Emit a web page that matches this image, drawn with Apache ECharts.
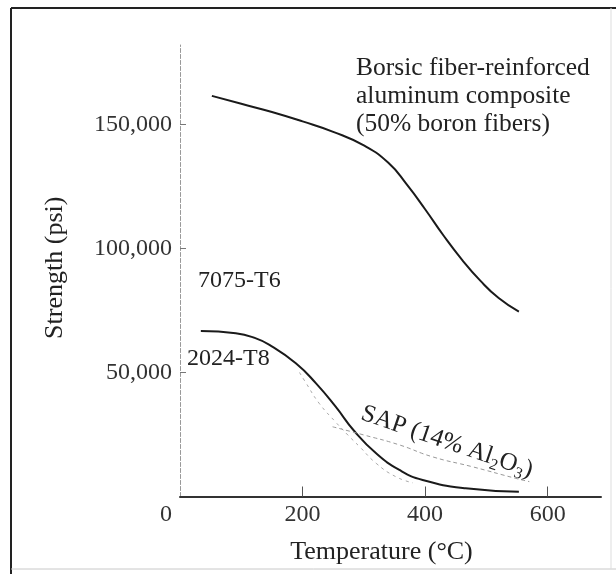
<!DOCTYPE html>
<html>
<head>
<meta charset="utf-8">
<script src="https://cdn.jsdelivr.net/npm/echarts@6/dist/echarts.min.js"></script>
<style>
html,body{margin:0;padding:0;background:#fff;}
#main{width:616px;height:574px;}
</style>
</head>
<body>
<div id="main"></div>
<script>
// ---- data ----
var xTicks = [0, 200, 400, 600];
var yTicks = [0, 50000, 100000, 150000];
var yTickLabels = ['', '50,000', '100,000', '150,000'];

var borsicT = [52, 100, 150, 200, 250, 300, 340, 370, 400, 430, 460, 490, 520, 553];
var borsicS = [161500, 158300, 155000, 151200, 147000, 141500, 134500, 125800, 115800, 105200, 95500, 87000, 80000, 74500];

var t7075T = [34, 91, 120, 146, 189, 222, 254, 284, 320, 358, 396, 466, 553];
var t7075S = [66700, 65800, 64100, 61100, 53700, 45600, 36200, 26500, 17400, 10700, 6650, 3300, 1950];

var t2024T = [195, 205, 227, 254, 275, 293, 320, 352, 380];
var t2024S = [50000, 46000, 37600, 30000, 24500, 20100, 13400, 8000, 5500];

var sapT = [249, 300, 358, 412, 477, 548, 570];
var sapS = [28100, 24800, 20800, 16000, 12000, 7300, 6000];

function pairs(xs, ys) { return xs.map(function (x, i) { return [x, ys[i]]; }); }

var FONT = '"Liberation Serif", "DejaVu Serif", serif';
var chart = echarts.init(document.getElementById('main'), null, {renderer: 'canvas'});

var option = {
  backgroundColor: '#ffffff',
  animation: false,
  grid: {left: 180, right: 15, top: 45, bottom: 77.5, containLabel: false},
  xAxis: {
    type: 'value', min: 0, max: 687,
    name: 'Temperature (°C)', nameLocation: 'middle', nameGap: 43,
    nameTextStyle: {fontFamily: FONT, fontSize: 26, color: '#222', padding: [0, 18, 0, 0]},
    axisLine: {show: true, lineStyle: {color: '#333', width: 2}},
    axisTick: {show: true, inside: true, length: 10, customValues: [200, 400, 600], lineStyle: {color: '#555', width: 1}},
    axisLabel: {
      customValues: xTicks, margin: 6, fontFamily: FONT, fontSize: 24, color: '#333',
      formatter: function (v) { return v === 0 ? '{o|0}' : String(v); },
      rich: {o: {fontFamily: FONT, fontSize: 24, color: '#333', padding: [0, 28, 0, 0]}}
    },
    splitLine: {show: false}
  },
  yAxis: {
    type: 'value', min: 0, max: 182000,
    name: 'Strength (psi)', nameLocation: 'middle', nameGap: 112, nameRotate: 90,
    nameTextStyle: {fontFamily: FONT, fontSize: 26, color: '#222', padding: [0, 0, 0, 6]},
    axisLine: {show: true, lineStyle: {color: '#999', width: 1, type: 'dashed'}},
    axisTick: {show: true, inside: true, length: 6, customValues: [50000, 100000, 150000], lineStyle: {color: '#777'}},
    axisLabel: {
      customValues: yTicks, margin: 8, fontFamily: FONT, fontSize: 24, color: '#333',
      formatter: function (v) { var i = yTicks.indexOf(v); return i >= 0 ? yTickLabels[i] : ''; }
    },
    splitLine: {show: false}
  },
  series: [
    {name: 'Borsic', type: 'line', smooth: 0.5, symbol: 'none', data: pairs(borsicT, borsicS),
     lineStyle: {color: '#1a1a1a', width: 2}},
    {name: '7075-T6', type: 'line', smooth: 0.5, symbol: 'none', data: pairs(t7075T, t7075S),
     lineStyle: {color: '#1a1a1a', width: 2}},
    {name: '2024-T8', type: 'line', smooth: 0.5, symbol: 'none', data: pairs(t2024T, t2024S),
     lineStyle: {color: '#aaa', width: 1, type: [3, 4]}},
    {name: 'SAP', type: 'line', smooth: 0.5, symbol: 'none', data: pairs(sapT, sapS),
     lineStyle: {color: '#999', width: 1, type: [4, 3]}}
  ],
  graphic: [
    {type: 'line', shape: {x1: 11, y1: 8, x2: 11, y2: 574}, style: {stroke: '#222', lineWidth: 2}},
    {type: 'line', shape: {x1: 11, y1: 8, x2: 616, y2: 8}, style: {stroke: '#222', lineWidth: 2}},
    {type: 'line', shape: {x1: 11, y1: 569, x2: 616, y2: 569}, style: {stroke: '#c8c8c8', lineWidth: 1}},
    {type: 'line', shape: {x1: 611, y1: 8, x2: 611, y2: 569}, style: {stroke: '#dddddd', lineWidth: 1}},
    {type: 'text', x: 356, y: 54, style: {
      text: 'Borsic fiber-reinforced\naluminum composite\n(50% boron fibers)',
      font: '25.5px ' + FONT, fill: '#222', lineHeight: 28, align: 'left', verticalAlign: 'top'}},
    {type: 'text', x: 198, y: 281, style: {text: '7075-T6', font: '24px ' + FONT, fill: '#222', align: 'left', verticalAlign: 'middle'}},
    {type: 'text', x: 187, y: 359, style: {text: '2024-T8', font: '24px ' + FONT, fill: '#222', align: 'left', verticalAlign: 'middle'}},
    {type: 'text', x: 447, y: 442, rotation: -0.33, style: {
      text: 'SAP (14% Al{s|2}O{s|3})', font: '25px ' + FONT, fill: '#222', align: 'center', verticalAlign: 'middle',
      lineHeight: 30,
      rich: {s: {fontFamily: FONT, fontSize: 16, fill: '#222', verticalAlign: 'bottom', lineHeight: 16}}}}
  ]
};
chart.setOption(option);
</script>
</body>
</html>
